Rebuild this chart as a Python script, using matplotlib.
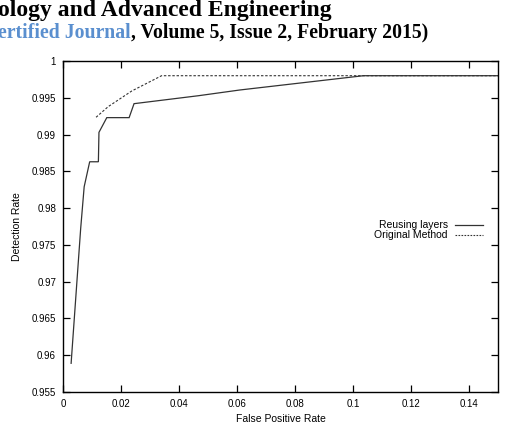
import matplotlib
matplotlib.use('Agg')
import matplotlib.pyplot as plt
from matplotlib.lines import Line2D

# Reusing layers (solid)
reuse_fpr = [0.0028, 0.0061, 0.0073, 0.0092, 0.0122, 0.0124, 0.0151, 0.0228,
             0.0245, 0.0467, 0.0610, 0.1036, 0.15]
reuse_dr = [0.9589, 0.97725, 0.9829, 0.9863, 0.9863, 0.9903, 0.9923, 0.9923,
            0.9942, 0.99528, 0.99606, 0.9980, 0.9980]

# Original method (dashed)
orig_fpr = [0.0114, 0.0156, 0.0237, 0.0340, 0.15]
orig_dr = [0.99235, 0.9938, 0.99592, 0.9980, 0.9980]

xticks = [0, 0.02, 0.04, 0.06, 0.08, 0.1, 0.12, 0.14]
xtick_labels = ['0', '0.02', '0.04', '0.06', '0.08', '0.1', '0.12', '0.14']
yticks = [0.955, 0.96, 0.965, 0.97, 0.975, 0.98, 0.985, 0.99, 0.995, 1.0]
ytick_labels = ['0.955', '0.96', '0.965', '0.97', '0.975', '0.98', '0.985',
                '0.99', '0.995', '1']

plt.rcParams['font.family'] = ['Liberation Sans', 'DejaVu Sans']

fig = plt.figure(figsize=(5.06, 4.26), dpi=100)
ax = fig.add_axes([63 / 506, 34 / 426, 435 / 506, 331 / 426])

ax.plot(reuse_fpr, reuse_dr, color='#333333', lw=0.9, solid_joinstyle='miter')
ax.plot(orig_fpr, orig_dr, color='#333333', lw=0.8, dashes=(2.2, 1.6))

ax.set_xlim(0, 0.15)
ax.set_ylim(0.955, 1.0)
ax.set_xticks(xticks)
ax.set_xticklabels(xtick_labels)
ax.set_yticks(yticks)
ax.set_yticklabels(ytick_labels)
ax.tick_params(direction='in', top=True, right=True, length=5, width=0.9,
               labelsize=7, colors='black', pad=5)
for s in ax.spines.values():
    s.set_linewidth(1.0)
ax.set_xlabel('False Positive Rate', fontsize=7.5, labelpad=4)
ax.set_ylabel('Detection Rate', fontsize=7.5, labelpad=7)

# gnuplot-style key: right aligned labels followed by line samples
labels = ['Reusing layers', 'Original Method']
styles = [dict(color='#333333', lw=0.9), dict(color='#333333', lw=0.8, dashes=(1.5, 1.2))]
for i, (lab, st) in enumerate(zip(labels, styles)):
    yk = 0.5045 - i * 0.0305
    ax.text(0.885, yk, lab, transform=ax.transAxes, ha='right', va='center',
            fontsize=7.5)
    ax.add_line(Line2D([0.901, 0.9655], [yk, yk], transform=ax.transAxes, **st))

# page header fragment above the figure
fig.text(-0.004, 1 - 16 / 426, 'ology and Advanced Engineering',
         fontsize=17, fontweight='bold', family='Liberation Serif',
         va='baseline', ha='left')
t1 = fig.text(-0.003, 1 - 38 / 426, 'ertified Journal', fontsize=14.2,
              fontweight='bold', family='Liberation Serif', color='#5a8fcf',
              va='baseline', ha='left')
fig.canvas.draw()
bb = t1.get_window_extent()
fig.text(bb.x1 / fig.bbox.width, 1 - 38 / 426,
         ', Volume 5, Issue 2, February 2015)', fontsize=14.2,
         fontweight='bold', family='Liberation Serif', va='baseline', ha='left')

fig.savefig('out.png', dpi=100)
